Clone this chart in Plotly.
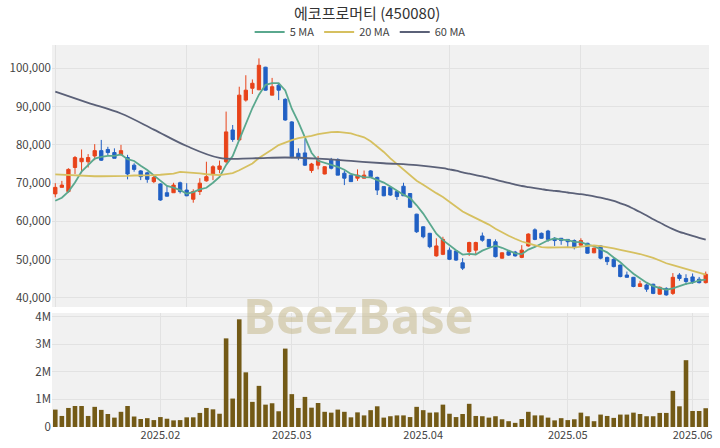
import pandas as pd
import plotly.graph_objects as go
from plotly.subplots import make_subplots

# ---- trading calendar (KRX, 2025-01-06 .. 2025-06-05) ----
holidays = ["2025-01-27", "2025-01-28", "2025-01-29", "2025-01-30",
            "2025-03-03", "2025-05-01", "2025-05-05", "2025-05-06", "2025-06-03"]
dates = [d.strftime("%Y-%m-%d") for d in pd.bdate_range("2025-01-06", "2025-06-05")
         if d.strftime("%Y-%m-%d") not in holidays]

opens = [67200, 68900, 67800, 74100, 75600, 75600, 77100, 78500, 78800, 78000,
         77400, 76700, 74700, 73200, 72700, 70400, 69800, 67500, 67500, 70100,
         68200, 65800, 67800, 70600, 72400, 73600, 75600, 83900, 81300, 91700,
         94800, 94400, 100300, 93000, 95600, 91900, 86000, 77800, 77900, 73300,
         74700, 72400, 76000, 76200, 72600, 72100, 71300, 71300, 73200, 71500,
         69100, 68900, 67800, 69200, 67300, 61900, 58600, 56900, 51000, 51400,
         52500, 52300, 49200, 52100, 52500, 56200, 55300, 54700, 50400, 52100,
         52000, 50600, 53600, 57800, 56900, 57500, 55600, 55600, 55300, 55000,
         53800, 54300, 51800, 53600, 50600, 50100, 48600, 46000, 45400, 43000,
         43400, 43600, 41000, 42500, 41200, 46000, 45100, 45500, 44900, 44000]
highs = [70000, 70600, 73900, 77100, 78800, 77600, 80200, 81300, 79500, 79100,
         80000, 77400, 75200, 73400, 73000, 72100, 70000, 69500, 70100, 70400,
         70000, 68400, 71300, 75600, 74700, 75900, 88700, 85200, 95200, 98200,
         97100, 102600, 100400, 97500, 96100, 92200, 86200, 79100, 81500, 75300,
         77100, 74400, 76600, 76500, 73300, 72100, 73600, 73300, 73400, 71700,
         69100, 69000, 68200, 70100, 67400, 62000, 58700, 57000, 55600, 56000,
         53200, 52400, 50400, 54700, 54700, 57100, 55400, 55300, 51900, 52500,
         52300, 53800, 56900, 58200, 57100, 57800, 55900, 55600, 55400, 55300,
         55600, 54400, 53200, 53800, 50800, 50400, 48700, 46900, 45500, 44500,
         43700, 43700, 43000, 42800, 46500, 46500, 46200, 46400, 45500, 46900]
lows = [66300, 68900, 67500, 72400, 72600, 74100, 76000, 75800, 77350, 76500,
        77300, 71000, 73000, 70800, 70100, 70000, 65400, 66500, 67500, 67300,
        66600, 64900, 66900, 70400, 70800, 72600, 75200, 80800, 81100, 91300,
        93300, 94300, 94200, 93000, 91700, 86300, 76500, 76000, 74500, 72700,
        73600, 72300, 73600, 72100, 69500, 70400, 70600, 71300, 71600, 66900,
        66600, 66700, 65600, 66700, 63600, 57000, 55600, 53000, 50800, 51200,
        49900, 49700, 47300, 51000, 51200, 54700, 53300, 50600, 50300, 51000,
        50800, 50400, 53400, 55100, 55500, 54700, 53600, 53900, 53200, 52700,
        53600, 51600, 51700, 50100, 48600, 48000, 45400, 45300, 42800, 42900,
        41600, 41000, 40900, 40600, 40800, 44500, 43400, 43700, 43800, 43800]
closes = [68900, 69500, 73600, 76700, 76500, 76700, 78500, 76000, 78000, 76500,
          78500, 72400, 73600, 71700, 71000, 71500, 65600, 66600, 69500, 67800,
          66700, 67800, 70000, 71700, 74300, 74500, 83400, 81400, 93000, 94300,
          96100, 100800, 94300, 95200, 94300, 86500, 76900, 76700, 74700, 75000,
          75900, 74300, 73900, 72100, 71300, 70400, 72100, 72100, 71700, 68200,
          66700, 66900, 66500, 66700, 63700, 57300, 56000, 53400, 53600, 55300,
          50100, 49900, 47800, 54500, 54500, 55100, 53400, 50800, 51800, 51200,
          51000, 52500, 56700, 55300, 55600, 55300, 55000, 55000, 54700, 53200,
          55000, 51700, 53000, 50400, 49500, 48200, 45600, 45400, 43000, 43700,
          42300, 41200, 42800, 40800, 45400, 45100, 44300, 44300, 44000, 46200]
volume_m = [0.63, 0.40, 0.69, 0.76, 0.76, 0.40, 0.73, 0.62, 0.47, 0.34,
            0.55, 0.76, 0.38, 0.29, 0.32, 0.25, 0.36, 0.30, 0.24, 0.25,
            0.35, 0.35, 0.51, 0.69, 0.64, 0.48, 3.21, 1.03, 3.90, 1.98,
            0.91, 1.49, 0.81, 0.86, 0.57, 2.84, 1.19, 0.69, 1.09, 0.70,
            0.87, 0.55, 0.52, 0.63, 0.55, 0.35, 0.53, 0.42, 0.61, 0.75,
            0.34, 0.39, 0.42, 0.42, 0.36, 0.73, 0.61, 0.52, 0.53, 0.81,
            0.48, 0.36, 0.47, 0.84, 0.40, 0.39, 0.34, 0.39, 0.28, 0.21,
            0.15, 0.29, 0.55, 0.42, 0.42, 0.34, 0.24, 0.32, 0.25, 0.28,
            0.52, 0.39, 0.21, 0.45, 0.40, 0.33, 0.45, 0.45, 0.52, 0.47,
            0.39, 0.39, 0.51, 0.51, 1.31, 0.75, 2.42, 0.58, 0.58, 0.68]

ma5_early = [65400, 66200, 67800, 70200]
ma20_early = [72300, 72200, 72100, 72000, 71900, 71900, 71800, 71800, 71800, 71800,
              71900, 71900, 72000, 72000, 72100, 72100, 72200, 72300, 72500]
ma60_early_idx = [0, 5, 10, 15, 20, 25, 30, 35, 40, 45, 50, 55]
ma60_early = [93900, 91000, 88200, 84000, 79700, 76600, 76500, 76700, 76400, 75800, 75200, 74700]

month_ticks = ["2025-02-03", "2025-03-04", "2025-04-01", "2025-05-02", "2025-06-02"]
month_labels = ["2025.02", "2025.03", "2025.04", "2025.05", "2025.06"]
price_ticks = [40000, 50000, 60000, 70000, 80000, 90000, 100000]
vol_ticks = [0, 1e6, 2e6, 3e6, 4e6]
vol_labels = ["0", "1M", "2M", "3M", "4M"]

c = pd.Series(closes, dtype=float)
ma5 = ma5_early + list(c.rolling(5).mean().iloc[4:])
ma20 = ma20_early + list(c.rolling(20).mean().iloc[19:])
ma60_full = c.rolling(60).mean()
ma60 = [None] * len(dates)
for i, v in zip(ma60_early_idx, ma60_early):
    ma60[i] = v
for i in range(59, len(dates)):
    ma60[i] = ma60_full.iloc[i]

UP, DOWN = "#e8431a", "#2160c4"
FONT = "Noto Sans CJK KR"
GRID = "#e2e2e2"

fig = make_subplots(rows=2, cols=1, shared_xaxes=True, vertical_spacing=0.0157,
                    row_heights=[0.6858, 0.2985])

fig.add_trace(go.Candlestick(
    x=dates, open=opens, high=highs, low=lows, close=closes,
    increasing=dict(line=dict(color=UP, width=1), fillcolor=UP),
    decreasing=dict(line=dict(color=DOWN, width=1), fillcolor=DOWN),
    showlegend=False, hoverinfo="skip"), row=1, col=1)

fig.add_trace(go.Scatter(x=dates, y=ma5, mode="lines", name="5 MA",
                         line=dict(color="#5aa88e", width=1.8)), row=1, col=1)
fig.add_trace(go.Scatter(x=dates, y=ma20, mode="lines", name="20 MA",
                         line=dict(color="#d6c060", width=1.8)), row=1, col=1)
fig.add_trace(go.Scatter(x=dates, y=ma60, mode="lines", name="60 MA", connectgaps=True,
                         line=dict(color="#5b6178", width=1.8, shape="spline")), row=1, col=1)

fig.add_trace(go.Bar(x=dates, y=[v * 1e6 for v in volume_m], marker_color="#735a16",
                     marker_line_width=0, showlegend=False), row=2, col=1)

fig.update_layout(
    width=720, height=448,
    margin=dict(l=52, r=11, t=45, b=21),
    paper_bgcolor="white", plot_bgcolor="#f1f1f1",
    font=dict(family=FONT, color="#444", size=11),
    title=dict(text="에코프로머티 (450080)", x=0.51, xanchor="center", y=0.969, yanchor="middle",
               font=dict(family=FONT, size=15, color="#333")),
    legend=dict(orientation="h", x=0.469, xanchor="center", y=1.034, yanchor="middle",
                font=dict(size=11, color="#444"), bgcolor="rgba(0,0,0,0)",
                itemwidth=30, tracegroupgap=0),
    bargap=0.3,
    boxgap=0.28,
    hovermode=False,
)

fig.update_xaxes(type="category", range=[-0.5, len(dates) - 0.5], automargin=False,
                 showgrid=True, gridcolor=GRID, zeroline=False,
                 rangeslider_visible=False)
fig.update_xaxes(row=1, col=1, showticklabels=False, tickmode="linear", tick0=0, dtick=20)
fig.update_xaxes(row=2, col=1, tickmode="array", tickvals=month_ticks, ticktext=month_labels,
                 tickfont=dict(size=11, color="#444"), ticks="")

fig.update_yaxes(row=1, col=1, range=[37650, 106100], tickvals=price_ticks, tickformat=",",
                 showgrid=True, gridcolor=GRID, zeroline=False, automargin=False,
                 tickfont=dict(size=11.5))
fig.update_yaxes(row=2, col=1, range=[0, 4.13e6], tickvals=vol_ticks, ticktext=vol_labels,
                 showgrid=True, gridcolor=GRID, zeroline=False, automargin=False,
                 tickfont=dict(size=11.5))

fig.add_annotation(text="<b>BeezBase</b>", xref="paper", yref="paper", x=0.4665, y=0.292,
                   xanchor="center", yanchor="middle", showarrow=False,
                   font=dict(family="Open Sans", size=49, color="rgba(196,184,140,0.55)"))

fig.write_html("out.html", config={"displayModeBar": False},
               post_script="document.body.style.margin='0px';")
